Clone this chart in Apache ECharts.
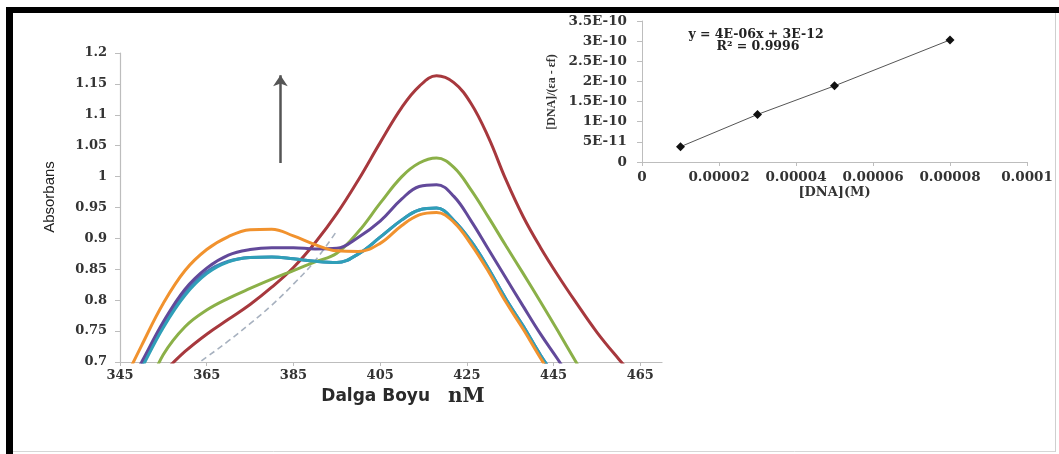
<!DOCTYPE html>
<html><head><meta charset="utf-8">
<script src="https://cdn.jsdelivr.net/npm/echarts@6/dist/echarts.min.js"></script>
<style>html,body{margin:0;padding:0;background:#fff}#c{width:1059px;height:454px}</style>
</head><body><div id="c"></div>
<script>
// ---- main spectrum data (wavelength nm vs absorbance) ----
const wavelengths = [345,350,355,360,365,370,375,380,385,390,395,400,405,410,414,418,422,426,430,434,438,442,446,450,455,460,465];
const absBlue   = [0.630,0.695,0.760,0.813,0.846,0.863,0.869,0.870,0.867,0.863,0.861,0.875,0.902,0.930,0.946,0.949,0.929,0.895,0.851,0.802,0.758,0.711,0.670,null,null,null,null];
const absRed    = [null,0.648,0.683,0.717,0.745,0.769,0.793,0.821,0.853,0.893,0.940,0.995,1.055,1.112,1.146,1.163,1.152,1.118,1.063,0.995,0.935,0.885,0.840,0.798,0.748,0.705,0.665];
const absGreen  = [0.600,0.640,0.712,0.757,0.784,0.803,0.819,0.834,0.848,0.862,0.876,0.911,0.957,1.000,1.022,1.030,1.015,0.978,0.934,0.888,0.843,0.797,0.750,0.702,0.642,null,null];
const absPurple = [0.636,0.700,0.765,0.818,0.852,0.873,0.882,0.885,0.885,0.883,0.884,0.902,0.928,0.964,0.984,0.987,0.968,0.928,0.882,0.836,0.790,0.745,0.704,0.660,null,null,null];
const absTeal   = [0.622,0.690,0.756,0.808,0.843,0.862,0.869,0.870,0.867,0.863,0.861,0.875,0.902,0.930,0.946,0.949,0.929,0.895,0.851,0.802,0.758,0.711,0.670,null,null,null,null];
const absOrange = [0.655,0.727,0.795,0.848,0.882,0.903,0.914,0.915,0.904,0.890,0.880,0.879,0.892,0.921,0.938,0.942,0.926,0.890,0.846,0.797,0.753,0.706,0.662,null,null,null,null];
const absDashed = [null,null,null,0.683,0.708,0.734,0.762,0.792,0.826,0.864,0.912,null,null,null,null,null,null,null,null,null,null,null,null,null,null,null,null];
const mainXTicks = [345,365,385,405,425,445,465];
// arrow annotation (data units)
const arrowX = 382;
const arrowFrom = 1.022;
const arrowTo = 1.164;

// ---- inset data ----
const dnaConc = [0.00001, 0.00003, 0.00005, 0.00008];
const dnaRatio = [3.8e-11, 1.18e-10, 1.89e-10, 3.03e-10];
const insetXLabels = ['0','0.00002','0.00004','0.00006','0.00008','0.0001'];
const insetYLabels = ['0','5E-11','1E-10','1.5E-10','2E-10','2.5E-10','3E-10','3.5E-10'];
const eqText = 'y = 4E-06x + 3E-12';
const r2Text = 'R² = 0.9996';

const pair = arr => wavelengths.map((w,i)=>[w, arr[i]]);
const labelFont = {fontFamily:'DejaVu Serif', fontWeight:'bold', color:'#333'};
const axisGray = '#bdbdbd';

function curve(name, arr, color, extra){
  return Object.assign({
    name, type:'line', xAxisIndex:0, yAxisIndex:0, data: pair(arr),
    smooth:0.4, showSymbol:false, symbol:'none', clip:true,
    lineStyle:{color, width:3}, itemStyle:{color}, silent:true
  }, extra||{});
}

const chart = echarts.init(document.getElementById('c'), null, {renderer:'canvas'});
chart.setOption({
  animation:false,
  backgroundColor:'#fff',
  grid:[
    {left:120, top:53, width:542, height:309},
    {left:642, top:21, width:385, height:141}
  ],
  xAxis:[
    {type:'value', gridIndex:0, min:345, max:470,
     axisLine:{lineStyle:{color:axisGray, width:1.2}},
     axisTick:{show:true, length:4, lineStyle:{color:axisGray}, customValues:mainXTicks},
     axisLabel:Object.assign({fontSize:13, margin:7, customValues:mainXTicks}, labelFont),
     splitLine:{show:false},
     name:'{a|Dalga Boyu}{s|}{b|nM}', nameLocation:'middle', nameGap:24,
     nameTextStyle:{padding:[0,0,0,24], rich:{
       a:{fontFamily:'DejaVu Sans', fontWeight:'bold', fontSize:17, color:'#2a2a2a'},
       s:{width:18},
       b:{fontFamily:'DejaVu Serif', fontWeight:'bold', fontSize:20, color:'#2a2a2a'}
     }}},
    {type:'value', gridIndex:1, min:0, max:0.0001, interval:0.00002,
     axisLine:{lineStyle:{color:axisGray, width:1}},
     axisTick:{show:true, length:4, lineStyle:{color:axisGray}},
     axisLabel:Object.assign({fontSize:13.5, margin:8,
       formatter:v=>insetXLabels[Math.round(v/0.00002)]}, labelFont),
     splitLine:{show:false},
     name:'[DNA](M)', nameLocation:'middle', nameGap:24,
     nameTextStyle:{fontFamily:'DejaVu Serif', fontWeight:'bold', fontSize:13, color:'#333'}}
  ],
  yAxis:[
    {type:'value', gridIndex:0, min:0.7, max:1.2, interval:0.05,
     axisLine:{show:true, lineStyle:{color:axisGray, width:1.2}},
     axisTick:{show:true, length:5, lineStyle:{color:axisGray}},
     axisLabel:Object.assign({fontSize:13, margin:13}, labelFont),
     splitLine:{show:false}},
    {type:'value', gridIndex:1, min:0, max:3.5e-10, interval:5e-11,
     axisLine:{show:true, lineStyle:{color:axisGray, width:1}},
     axisTick:{show:true, length:5, lineStyle:{color:axisGray}},
     axisLabel:Object.assign({fontSize:13.5, margin:15,
       formatter:v=>insetYLabels[Math.round(v/5e-11)]}, labelFont),
     splitLine:{show:false}}
  ],
  series:[
    curve('dashed', absDashed, '#a7b1bf', {lineStyle:{color:'#a7b1bf', width:1.6, type:[6,4]}}),
    curve('blue', absBlue, '#4a78b8'),
    curve('red', absRed, '#a7383d'),
    curve('green', absGreen, '#8bb048'),
    curve('purple', absPurple, '#62499a'),
    curve('teal', absTeal, '#2f9fb8'),
    curve('orange', absOrange, '#f1922e'),
    {name:'arrow', type:'line', xAxisIndex:0, yAxisIndex:0, data:[], silent:true,
     markLine:{silent:true, symbol:['none','arrow'], symbolSize:[11,11], label:{show:false},
       lineStyle:{color:'#555', width:2.5, type:'solid'},
       data:[[{coord:[arrowX, arrowFrom]}, {coord:[arrowX, arrowTo]}]]}},
    {name:'fit', type:'line', xAxisIndex:1, yAxisIndex:1,
     data:dnaConc.map((x,i)=>[x, dnaRatio[i]]),
     symbol:'diamond', symbolSize:9, showSymbol:true,
     itemStyle:{color:'#111'}, lineStyle:{color:'#555', width:1}, silent:true}
  ],
  graphic:[
    {type:'rect', shape:{x:6, y:7, width:1053, height:6}, style:{fill:'#000'}, silent:true},
    {type:'rect', shape:{x:6, y:7, width:7, height:447}, style:{fill:'#000'}, silent:true},
    {type:'line', shape:{x1:1055.5, y1:13, x2:1055.5, y2:452}, style:{stroke:'#cfcfcf', lineWidth:1}, silent:true},
    {type:'line', shape:{x1:13, y1:451.5, x2:1055, y2:451.5}, style:{stroke:'#d6d6d6', lineWidth:1}, silent:true},
    {type:'text', x:50, y:197, rotation:Math.PI/2,
     style:{text:'Absorbans', fontFamily:'Liberation Sans', fontSize:15, fill:'#222', textAlign:'center', textVerticalAlign:'middle'}},
    {type:'text', x:552, y:92, rotation:Math.PI/2,
     style:{text:'[DNA]/(εa - εf)', fontFamily:'Liberation Serif', fontWeight:'bold', fontSize:12, fill:'#333', textAlign:'center', textVerticalAlign:'middle'}},
    {type:'text', x:756, y:35,
     style:{text:eqText, fontFamily:'DejaVu Serif', fontWeight:'bold', fontSize:12.5, fill:'#222', textAlign:'center', textVerticalAlign:'middle'}},
    {type:'text', x:758, y:47,
     style:{text:r2Text, fontFamily:'DejaVu Serif', fontWeight:'bold', fontSize:12.5, fill:'#222', textAlign:'center', textVerticalAlign:'middle'}}
  ]
});
</script></body></html>
